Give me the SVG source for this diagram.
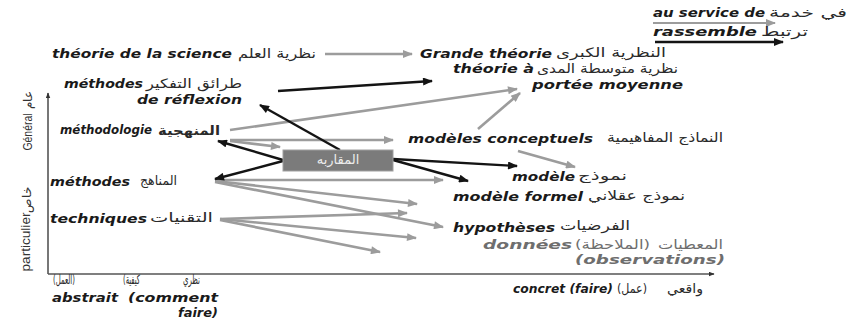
<svg xmlns="http://www.w3.org/2000/svg" width="849" height="320" viewBox="0 0 849 320">
<style>
.fr{font-family:"DejaVu Sans","Verdana",sans-serif;font-weight:bold;font-style:italic;font-size:13px;fill:#1a1a1a}
.ar{font-family:"DejaVu Sans","Noto Sans",sans-serif;font-size:13px;fill:#2a2a2a}
.gr{fill:#6e6e6e}
.ax{font-family:"Liberation Sans Narrow","Liberation Sans",sans-serif;font-size:12px;fill:#333}
.g{stroke:#9c9c9c;stroke-width:2.6;fill:none;marker-end:url(#ag)}
.b{stroke:#141414;stroke-width:2.4;fill:none;marker-end:url(#ab)}
.axis{stroke:#555;stroke-width:1.6;fill:none;marker-end:url(#ax)}
</style>
<defs>
<marker id="ag" viewBox="0 0 10 8" refX="9" refY="4" markerWidth="11" markerHeight="8" markerUnits="userSpaceOnUse" orient="auto"><path d="M0,0L10,4L0,8z" fill="#9c9c9c"/></marker>
<marker id="ab" viewBox="0 0 10 8" refX="9" refY="4" markerWidth="11" markerHeight="8" markerUnits="userSpaceOnUse" orient="auto"><path d="M0,0L10,4L0,8z" fill="#141414"/></marker>
<marker id="ax" viewBox="0 0 10 8" refX="9" refY="4" markerWidth="6" markerHeight="5" markerUnits="userSpaceOnUse" orient="auto"><path d="M0,0L10,4L0,8z" fill="#333"/></marker>
</defs>
<rect width="849" height="320" fill="#fff"/>

<g id="axes">
<path class="axis" d="M48,274 L48,93"/>
<path class="axis" d="M48,274 L714,274"/>
<text class="ax" transform="translate(32,100) rotate(-90)" text-anchor="middle">عام</text>
<text class="ax" transform="translate(32,132) rotate(-90)" text-anchor="middle" textLength="37" lengthAdjust="spacingAndGlyphs">Général</text>
<text class="ax" transform="translate(31,200) rotate(-90)" text-anchor="middle">خاص</text>
<text class="ax" transform="translate(30,242) rotate(-90)" text-anchor="middle" textLength="59" lengthAdjust="spacingAndGlyphs">particulier</text>
</g>

<g id="connectors">
<path class="g" d="M325,54 L412,54"/>
<path class="g" d="M230,130 L517,89"/>
<path class="g" d="M478,129 L520,93"/>
<path class="g" d="M230,140 L393,140"/>
<path class="g" d="M230,141 L280,147"/>
<path class="g" d="M518,151 L575,167"/>
<path class="g" d="M215,180 L443,180"/>
<path class="g" d="M215,181 L417,204"/>
<path class="g" d="M215,182 L443,227"/>
<path class="g" d="M220,219 L407,213"/>
<path class="g" d="M220,219 L416,238"/>
<path class="g" d="M220,220 L380,252"/>
<path class="b" d="M278,91 L432,81"/>
<path class="b" d="M340,150 L260,105"/>
<path class="b" d="M283,160 L218,141"/>
<path class="b" d="M283,161 L215,179"/>
<path class="b" d="M393,159 L517,166"/>
<path class="b" d="M393,160 L468,181"/>
</g>

<g id="legend">
<text class="fr" x="653" y="17" textLength="112" lengthAdjust="spacingAndGlyphs">au service de</text>
<text class="ar" x="769" y="17" textLength="78" lengthAdjust="spacingAndGlyphs">في خدمة</text>
<path d="M653,23 L775,23" stroke="#9c9c9c" stroke-width="2" marker-end="url(#ag)"/>
<text class="fr" x="653" y="36" textLength="104" lengthAdjust="spacingAndGlyphs">rassemble</text>
<text class="ar" x="761" y="36" textLength="47" lengthAdjust="spacingAndGlyphs">ترتبط</text>
<path d="M655,42 L783,42" stroke="#141414" stroke-width="2.4" marker-end="url(#ab)"/>
</g>

<g id="theorie-science">
<text class="fr" x="52" y="58" textLength="180" lengthAdjust="spacingAndGlyphs">théorie de la science</text>
<text class="ar" x="238" y="58" textLength="78" lengthAdjust="spacingAndGlyphs">نظرية العلم</text>
</g>
<g id="grande-theorie">
<text class="fr" x="420" y="58" textLength="132" lengthAdjust="spacingAndGlyphs">Grande théorie</text>
<text class="ar" x="556" y="57" textLength="110" lengthAdjust="spacingAndGlyphs">النظرية الكبرى</text>
</g>
<g id="theorie-moyenne">
<text class="fr" x="453" y="73" textLength="81" lengthAdjust="spacingAndGlyphs">théorie à</text>
<text class="ar" x="537" y="73" textLength="141" lengthAdjust="spacingAndGlyphs">نظرية متوسطة المدى</text>
<text class="fr" x="532" y="89" textLength="151" lengthAdjust="spacingAndGlyphs">portée  moyenne</text>
</g>
<g id="methodes-reflexion">
<text class="fr" x="64" y="88" textLength="79" lengthAdjust="spacingAndGlyphs">méthodes</text>
<text class="ar" x="146" y="88" textLength="96" lengthAdjust="spacingAndGlyphs">طرائق التفكير</text>
<text class="fr" x="137" y="104" textLength="105" lengthAdjust="spacingAndGlyphs">de réflexion</text>
</g>
<g id="methodologie">
<text class="fr" x="60" y="134" font-size="10" textLength="92" lengthAdjust="spacingAndGlyphs">méthodologie</text>
<text class="ar" x="158" y="135" font-weight="bold" textLength="62" lengthAdjust="spacingAndGlyphs">المنهجية</text>
</g>
<g id="approche">
<rect x="283" y="150" width="110" height="21" fill="#7b7b7b" stroke="#a0a0a0" stroke-width="1"/>
<text class="ar" x="338" y="164" text-anchor="middle" font-size="11" style="fill:#ececec">المقاربه</text>
</g>
<g id="modeles-conceptuels">
<text class="fr" x="408" y="143" textLength="185" lengthAdjust="spacingAndGlyphs">modèles conceptuels</text>
<text class="ar" x="607" y="142" textLength="116" lengthAdjust="spacingAndGlyphs">النماذج المفاهيمية</text>
</g>
<g id="modele">
<text class="fr" x="512" y="181" textLength="63" lengthAdjust="spacingAndGlyphs">modèle</text>
<text class="ar" x="578" y="180" textLength="49" lengthAdjust="spacingAndGlyphs">نموذج</text>
</g>
<g id="modele-formel">
<text class="fr" x="453" y="201" textLength="130" lengthAdjust="spacingAndGlyphs">modèle formel</text>
<text class="ar" x="588" y="200" textLength="97" lengthAdjust="spacingAndGlyphs">نموذج عقلاني</text>
</g>
<g id="methodes">
<text class="fr" x="50" y="186" textLength="80" lengthAdjust="spacingAndGlyphs">méthodes</text>
<text class="ar" x="140" y="185" textLength="37" lengthAdjust="spacingAndGlyphs">المناهج</text>
</g>
<g id="techniques">
<text class="fr" x="50" y="223" textLength="97" lengthAdjust="spacingAndGlyphs">techniques</text>
<text class="ar" x="150" y="222" textLength="63" lengthAdjust="spacingAndGlyphs">التقنيات</text>
</g>
<g id="hypotheses">
<text class="fr" x="453" y="232" textLength="102" lengthAdjust="spacingAndGlyphs">hypothèses</text>
<text class="ar" x="560" y="230" textLength="70" lengthAdjust="spacingAndGlyphs">الفرضيات</text>
</g>
<g id="donnees">
<text class="fr gr" x="483" y="249" textLength="89" lengthAdjust="spacingAndGlyphs">données</text>
<text class="ar gr" x="575" y="249" textLength="75" lengthAdjust="spacingAndGlyphs">(الملاحظة)</text>
<text class="ar gr" x="658" y="249" textLength="65" lengthAdjust="spacingAndGlyphs">المعطيات</text>
<text class="fr gr" x="575" y="264" textLength="150" lengthAdjust="spacingAndGlyphs">(observations)</text>
</g>
<g id="abstrait">
<text class="ar" x="53" y="284" font-size="9" textLength="22" lengthAdjust="spacingAndGlyphs">(العمل)</text>
<text class="ar" x="123" y="284" font-size="9" textLength="17" lengthAdjust="spacingAndGlyphs">(كيفية</text>
<text class="ar" x="183" y="284" font-size="9" textLength="17" lengthAdjust="spacingAndGlyphs">نظري</text>
<text class="fr" x="52" y="302" textLength="66" lengthAdjust="spacingAndGlyphs">abstrait</text>
<text class="fr" x="128" y="302" textLength="90" lengthAdjust="spacingAndGlyphs">(comment</text>
<text class="fr" x="178" y="317" textLength="40" lengthAdjust="spacingAndGlyphs">faire)</text>
</g>
<g id="concret">
<text class="fr" x="513" y="293" font-size="11" textLength="100" lengthAdjust="spacingAndGlyphs">concret (faire)</text>
<text class="ar" x="617" y="293" font-size="10" textLength="30" lengthAdjust="spacingAndGlyphs">(عمل)</text>
<text class="ar" x="667" y="293" font-size="10" textLength="36" lengthAdjust="spacingAndGlyphs">واقعي</text>
</g>
</svg>
